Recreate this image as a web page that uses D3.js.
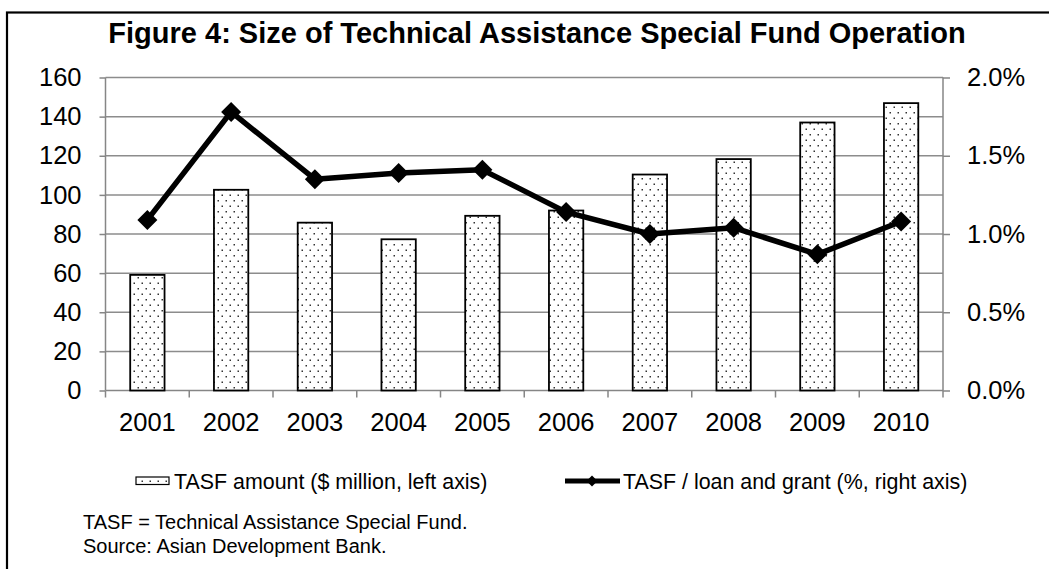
<!DOCTYPE html>
<html>
<head>
<meta charset="utf-8">
<script src="https://cdn.jsdelivr.net/npm/d3@7/dist/d3.min.js"></script>
<style>
  html, body { margin: 0; padding: 0; background: #fff; }
  svg { display: block; font-family: Arial, "Liberation Sans", sans-serif; }
</style>
</head>
<body>
<svg id="chart" width="1049" height="569"></svg>
<script>
// Technical Assistance Special Fund, 2001-2010
const years = ["2001", "2002", "2003", "2004", "2005", "2006", "2007", "2008", "2009", "2010"];
const tasfAmount = [59.1, 102.6, 85.8, 77.3, 89.3, 92.0, 110.4, 118.3, 137.0, 146.9]; // $ million
const tasfShare = [1.09, 1.78, 1.35, 1.39, 1.41, 1.14, 1.00, 1.04, 0.87, 1.08];       // % of loans and grants
const leftTicks = [0, 20, 40, 60, 80, 100, 120, 140, 160];
const rightTicks = [0, 0.5, 1.0, 1.5, 2.0];

const titleText = "Figure 4: Size of Technical Assistance Special Fund Operation";
const legendBar = "TASF amount ($ million, left axis)";
const legendLine = "TASF / loan and grant (%, right axis)";
const notes = ["TASF = Technical Assistance Special Fund.", "Source: Asian Development Bank."];

const svg = d3.select("#chart");
const plot = { left: 105.5, right: 943, top: 77.5, bottom: 390.5 };

// outer frame
svg.append("rect")
  .attr("x", 7).attr("y", 12.5)
  .attr("width", 1100).attr("height", 600)
  .attr("fill", "none").attr("stroke", "#000").attr("stroke-width", 2.2);

// dotted fill for the bars
const defs = svg.append("defs");
const pat = defs.append("pattern")
  .attr("id", "dots").attr("patternUnits", "userSpaceOnUse")
  .attr("width", 8).attr("height", 11);
pat.append("rect").attr("width", 8).attr("height", 11).attr("fill", "#fff");
pat.append("rect").attr("x", 1.5).attr("y", 2).attr("width", 1.5).attr("height", 1.5).attr("fill", "#333");
pat.append("rect").attr("x", 5.5).attr("y", 7.5).attr("width", 1.5).attr("height", 1.5).attr("fill", "#333");

const x = d3.scaleBand().domain(years).range([plot.left, plot.right])
  .paddingInner(0.59).paddingOuter(0.295);
const yL = d3.scaleLinear().domain([0, 160]).range([plot.bottom, plot.top]);
const yR = d3.scaleLinear().domain([0, 2.0]).range([plot.bottom, plot.top]);

// title
svg.append("text")
  .attr("x", 537).attr("y", 43)
  .attr("text-anchor", "middle")
  .attr("font-weight", "bold").attr("font-size", 29)
  .text(titleText);

// horizontal gridlines
svg.append("g").selectAll("line").data(leftTicks.slice(1)).join("line")
  .attr("x1", plot.left).attr("x2", plot.right)
  .attr("y1", d => yL(d)).attr("y2", d => yL(d))
  .attr("stroke", "#8c8c8c").attr("stroke-width", 1.5);

const gridGrey = "#868686";
const tickFont = 25.5;

// left axis
const axL = svg.append("g").attr("transform", `translate(${plot.left},0)`)
  .call(d3.axisLeft(yL).tickValues(leftTicks).tickSize(6).tickPadding(18));
// right axis
const axR = svg.append("g").attr("transform", `translate(${plot.right},0)`)
  .call(d3.axisRight(yR).tickValues(rightTicks).tickSize(7).tickPadding(17)
    .tickFormat(d => d3.format(".1f")(d) + "%"));
// bottom axis: ticks on category boundaries
const axB = svg.append("g").attr("transform", `translate(0,${plot.bottom})`)
  .call(d3.axisBottom(x).tickSize(0).tickPadding(22));
axB.selectAll(".tick text").attr("dy", "0.71em");
const boundaries = d3.range(years.length + 1).map(i => plot.left + i * x.step());
axB.selectAll("line.cat").data(boundaries).join("line").attr("class", "cat")
  .attr("x1", d => d).attr("x2", d => d).attr("y1", 0).attr("y2", 7)
  .attr("stroke", gridGrey).attr("stroke-width", 1.5);

[axL, axR, axB].forEach(g => {
  g.select(".domain").attr("stroke", gridGrey).attr("stroke-width", 1.5);
  g.selectAll(".tick line").attr("stroke", gridGrey).attr("stroke-width", 1.5);
  g.selectAll(".tick text").attr("fill", "#000").attr("font-size", tickFont)
    .attr("font-family", "Arial, 'Liberation Sans', sans-serif");
});
axB.select(".domain").attr("d", `M${plot.left},0H${plot.right}`);
axL.select(".domain").attr("d", `M0,${plot.top}V${plot.bottom}`);
axR.select(".domain").attr("d", `M0,${plot.top}V${plot.bottom}`);

// bars
svg.append("g").selectAll("rect").data(years).join("rect")
  .attr("x", d => x(d)).attr("width", x.bandwidth())
  .attr("y", (d, i) => yL(tasfAmount[i]))
  .attr("height", (d, i) => yL(0) - yL(tasfAmount[i]))
  .attr("fill", "url(#dots)").attr("stroke", "#000").attr("stroke-width", 1.8);

// line with diamond markers
const cx = d => x(d) + x.bandwidth() / 2;
const line = d3.line().x((d, i) => cx(years[i])).y(d => yR(d));
svg.append("path").datum(tasfShare)
  .attr("d", line).attr("fill", "none")
  .attr("stroke", "#000").attr("stroke-width", 5.5).attr("stroke-linejoin", "round");
svg.append("g").selectAll("path").data(tasfShare).join("path")
  .attr("transform", (d, i) => `translate(${cx(years[i])},${yR(d)}) rotate(45)`)
  .attr("d", d3.symbol().type(d3.symbolSquare).size(200))
  .attr("fill", "#000");

// legend
const lg = svg.append("g");
lg.append("rect").attr("x", 136).attr("y", 477).attr("width", 33).attr("height", 7.5)
  .attr("fill", "url(#dots)").attr("stroke", "#000").attr("stroke-width", 1.2);
lg.append("text").attr("x", 174).attr("y", 489).attr("font-size", 21.4).text(legendBar);
lg.append("line").attr("x1", 565).attr("x2", 620).attr("y1", 481).attr("y2", 481)
  .attr("stroke", "#000").attr("stroke-width", 5);
lg.append("path").attr("transform", "translate(592,481) rotate(45)")
  .attr("d", d3.symbol().type(d3.symbolSquare).size(60)).attr("fill", "#000");
lg.append("text").attr("x", 623).attr("y", 489).attr("font-size", 21.4).text(legendLine);

// notes
svg.append("g").selectAll("text").data(notes).join("text")
  .attr("x", 83).attr("y", (d, i) => 529 + i * 23.5)
  .attr("font-size", 20).text(d => d);
</script>
</body>
</html>
